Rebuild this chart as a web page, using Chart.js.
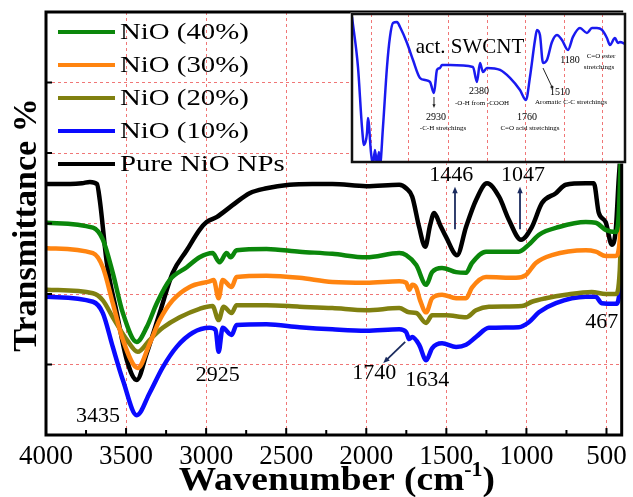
<!DOCTYPE html>
<html>
<head>
<meta charset="utf-8">
<script src="https://cdn.jsdelivr.net/npm/chart.js@4"></script>
<style>
  html, body { margin: 0; padding: 0; background: #fff; }
  #wrap { position: relative; width: 633px; height: 497px; }
  #main { position: absolute; left: 0; top: 0; width: 633px; height: 497px; }
  #inset { position: absolute; left: 350px; top: 12px; width: 277px; height: 152px; }
</style>
</head>
<body>
<div id="wrap">
  <div id="main"><canvas id="ctx"></canvas></div>
  <div id="inset"><canvas id="ctx2"></canvas></div>
</div>
<script>
// tick labels
const wavenumberTicks = [4000, 3500, 3000, 2500, 2000, 1500, 1000, 500]
const insetGridWn = [3720, 3250, 2750, 2255, 1770, 1275, 780]

// series (wavenumber, transmittance in arbitrary offset units)
const pureWn = [3994, 3850, 3776, 3726, 3682, 3664, 3620, 3558, 3495, 3433, 3371, 3290, 3209, 3121, 3041, 2997, 2935, 2835, 2729, 2623, 2480, 2337, 2212, 2000, 1794, 1751, 1713, 1670, 1632, 1601, 1576, 1539, 1502, 1433, 1377, 1315, 1246, 1171, 1109, 1034, 966, 903, 816, 754, 629, 579, 548, 505, 467, 442, 424, 411]
const pureT = [3.56, 3.56, 3.57, 3.59, 3.56, 3.33, 2.44, 1.73, 1.06, 0.78, 1.16, 1.73, 2.30, 2.62, 2.91, 3.02, 3.09, 3.26, 3.43, 3.50, 3.55, 3.56, 3.56, 3.53, 3.55, 3.50, 3.38, 2.95, 2.67, 2.98, 3.15, 2.98, 2.81, 2.55, 2.95, 3.33, 3.57, 3.38, 3.05, 2.77, 2.95, 3.29, 3.43, 3.55, 3.57, 3.57, 3.15, 3.02, 2.70, 2.91, 3.62, 4.04]

const nio40Wn = [3994, 3707, 3645, 3583, 3520, 3433, 3371, 3308, 3227, 3121, 3041, 2960, 2916, 2872, 2847, 2810, 2623, 2417, 2212, 2000, 1794, 1751, 1688, 1626, 1589, 1527, 1439, 1377, 1340, 1252, 1047, 985, 922, 797, 629, 567, 505, 442, 424, 411]
const nio40T = [3.01, 2.94, 2.77, 2.30, 1.73, 1.32, 1.53, 1.87, 2.20, 2.38, 2.52, 2.58, 2.45, 2.58, 2.52, 2.62, 2.64, 2.60, 2.57, 2.52, 2.58, 2.55, 2.41, 2.13, 2.31, 2.37, 2.31, 2.30, 2.44, 2.60, 2.60, 2.70, 2.84, 2.95, 3.02, 3.01, 2.91, 2.88, 3.12, 3.90]

const nio30Wn = [3994, 3707, 3645, 3583, 3520, 3427, 3352, 3290, 3209, 3103, 2978, 2953, 2922, 2897, 2841, 2810, 2623, 2417, 2212, 2000, 1794, 1751, 1732, 1713, 1688, 1664, 1626, 1589, 1527, 1439, 1377, 1340, 1252, 1065, 1003, 941, 841, 629, 567, 505, 442, 417, 405]
const nio30T = [2.65, 2.58, 2.38, 1.87, 1.35, 0.95, 1.30, 1.63, 1.91, 2.10, 2.18, 2.20, 1.94, 2.20, 2.10, 2.24, 2.26, 2.23, 2.17, 2.16, 2.18, 2.16, 2.06, 2.13, 2.09, 1.91, 1.74, 1.94, 1.99, 1.94, 1.94, 2.09, 2.24, 2.23, 2.27, 2.44, 2.55, 2.62, 2.60, 2.54, 2.54, 2.77, 3.62]

const nio20Wn = [3994, 3707, 3645, 3583, 3495, 3427, 3352, 3271, 3165, 3041, 2960, 2922, 2891, 2841, 2810, 2623, 2417, 2212, 2000, 1794, 1732, 1688, 1626, 1589, 1502, 1377, 1315, 1234, 1028, 966, 878, 754, 592, 505, 442, 417, 405]
const nio20T = [2.06, 2.01, 1.91, 1.67, 1.35, 1.18, 1.35, 1.52, 1.67, 1.79, 1.83, 1.63, 1.82, 1.73, 1.84, 1.84, 1.82, 1.80, 1.77, 1.80, 1.74, 1.73, 1.59, 1.70, 1.70, 1.67, 1.77, 1.82, 1.83, 1.89, 1.94, 1.99, 2.03, 2.00, 2.00, 2.34, 3.33]

const nio10Wn = [3994, 3707, 3645, 3583, 3520, 3433, 3352, 3271, 3184, 3084, 2978, 2941, 2922, 2897, 2841, 2810, 2623, 2417, 2212, 2000, 1794, 1751, 1732, 1713, 1670, 1626, 1589, 1527, 1439, 1377, 1315, 1234, 1047, 985, 922, 816, 629, 567, 530, 442, 417, 405]
const nio10T = [1.96, 1.89, 1.73, 1.25, 0.78, 0.28, 0.60, 0.96, 1.25, 1.45, 1.52, 1.49, 1.18, 1.52, 1.42, 1.56, 1.57, 1.53, 1.50, 1.48, 1.50, 1.46, 1.36, 1.39, 1.28, 1.06, 1.23, 1.30, 1.25, 1.28, 1.39, 1.52, 1.53, 1.60, 1.74, 1.87, 1.96, 1.96, 1.87, 1.86, 2.06, 2.91]

// inset: activated SWCNT spectrum
const swcntWn = [3973, 3897, 3846, 3820, 3782, 3770, 3731, 3706, 3681, 3655, 3630, 3617, 3579, 3528, 3490, 3452, 3401, 3362, 3273, 3197, 3108, 3044, 2981, 2930, 2892, 2854, 2828, 2726, 2434, 2383, 2345, 2307, 2256, 2090, 1963, 1836, 1760, 1709, 1645, 1620, 1582, 1543, 1493, 1429, 1366, 1302, 1225, 1162, 1073, 984, 920, 857, 793, 730, 691, 628, 590, 564, 500]
const swcntT = [98.0, 64.2, 23.6, 11.5, 19.6, 29.7, 6.1, -2, 8.1, -2, 6.8, -2, 23.6, 64.2, 84.5, 93.9, 94.6, 91.2, 80.4, 68.9, 56.8, 55.4, 54.1, 46.6, 62.2, 63.5, 65.5, 65.5, 64.2, 54.1, 66.9, 60.8, 63.5, 62.2, 56.8, 48.6, 41.9, 57.4, 82.4, 89.2, 85.8, 66.9, 68.9, 81.1, 85.8, 82.4, 75.7, 84.5, 90.5, 87.2, 90.5, 90.5, 89.2, 83.8, 79.1, 83.8, 80.4, 81.1, 79.7]

const pts = (wn, t) => wn.map((x, i) => ({x: x, y: t[i]}))

const serif = "'Liberation Serif', 'Times New Roman', serif"
const gridRed = 'rgba(236, 84, 84, 0.8)'
const arrowBlue = '#1b2b5e'

// main annotations, placed in data space
const peakLabels = [
  {text: '3435', wn: 3676, t: 0.27},
  {text: '2925', wn: 2928, t: 0.85},
  {text: '1740', wn: 1950, t: 0.88},
  {text: '1634', wn: 1620, t: 0.78},
  {text: '467', wn: 530, t: 1.60},
  {text: '1446', wn: 1470, t: 3.69},
  {text: '1047', wn: 1022, t: 3.69}
]
const peakArrows = [
  {from: [1446, 2.92], to: [1446, 3.52]},
  {from: [1040, 2.92], to: [1040, 3.52]},
  {from: [1757, 1.32], to: [1894, 1.02]}
]

function stretchText(ctx, text, x, y, font, sx, align, baseline) {
  ctx.save()
  ctx.font = font
  ctx.translate(x, y)
  ctx.scale(sx, 1)
  ctx.textAlign = align || 'center'
  ctx.textBaseline = baseline || 'middle'
  ctx.fillStyle = '#000'
  ctx.fillText(text, 0, 0)
  ctx.restore()
}

function arrow(ctx, x1, y1, x2, y2, head, color, width) {
  const a = Math.atan2(y2 - y1, x2 - x1)
  ctx.save()
  ctx.strokeStyle = color
  ctx.fillStyle = color
  ctx.lineWidth = width
  ctx.beginPath()
  ctx.moveTo(x1, y1)
  ctx.lineTo(x2 - Math.cos(a) * head * 0.6, y2 - Math.sin(a) * head * 0.6)
  ctx.stroke()
  ctx.beginPath()
  ctx.moveTo(x2, y2)
  ctx.lineTo(x2 - head * Math.cos(a - 0.4), y2 - head * Math.sin(a - 0.4))
  ctx.lineTo(x2 - head * Math.cos(a + 0.4), y2 - head * Math.sin(a + 0.4))
  ctx.closePath()
  ctx.fill()
  ctx.restore()
}

const frameAndText = {
  id: 'frameAndText',
  afterDatasetsDraw: (chart) => {
    const {ctx} = chart
    const {left, right, top, bottom} = chart.chartArea
    const xs = chart.scales.x
    const ys = chart.scales.y

    ctx.save()
    ctx.strokeStyle = '#000'
    ctx.lineWidth = 3
    ctx.strokeRect(left, top, right - left, bottom - top)

    // inward tick marks
    ctx.lineWidth = 2
    ctx.beginPath()
    for (let v = 500; v < 4000; v += 250) {
      const px = xs.getPixelForValue(v)
      ctx.moveTo(px, bottom)
      ctx.lineTo(px, bottom - (v % 500 === 0 ? 7 : 5))
    }
    for (let v = 1; v <= 5; v++) {
      const py = ys.getPixelForValue(v)
      ctx.moveTo(left, py)
      ctx.lineTo(left + 6, py)
    }
    ctx.stroke()
    ctx.restore()
  },
  afterDraw: (chart) => {
    const {ctx} = chart
    const xs = chart.scales.x
    const ys = chart.scales.y
    const {left, right} = chart.chartArea

    // legend
    chart.data.datasets.forEach((ds, i) => {
      const y = 32 + i * 33
      ctx.save()
      ctx.strokeStyle = ds.borderColor
      ctx.lineWidth = 4
      ctx.beginPath()
      ctx.moveTo(58, y)
      ctx.lineTo(115, y)
      ctx.stroke()
      ctx.restore()
      stretchText(ctx, ds.label, 120, y + 1, '24px ' + serif, 1.2, 'left')
    })

    // peak labels and arrows
    peakLabels.forEach(p => {
      stretchText(ctx, p.text, xs.getPixelForValue(p.wn), ys.getPixelForValue(p.t), '22px ' + serif, 1, 'center')
    })
    peakArrows.forEach(a => {
      arrow(ctx, xs.getPixelForValue(a.from[0]), ys.getPixelForValue(a.from[1]),
        xs.getPixelForValue(a.to[0]), ys.getPixelForValue(a.to[1]), 7, arrowBlue, 1.8)
    })

    // x title with superscript
    ctx.save()
    const big = 'bold 34px ' + serif
    const small = 'bold 20px ' + serif
    ctx.font = big
    const w1 = ctx.measureText('Wavenumber (cm').width
    const w3 = ctx.measureText(')').width
    ctx.font = small
    const w2 = ctx.measureText('-1').width
    const sx = 1.1
    const total = (w1 + w2 + w3) * sx
    let x0 = (left + right) / 2 + 3 - total / 2
    stretchText(ctx, 'Wavenumber (cm', x0, 490, big, sx, 'left', 'alphabetic')
    stretchText(ctx, '-1', x0 + w1 * sx, 476, small, sx, 'left', 'alphabetic')
    stretchText(ctx, ')', x0 + (w1 + w2) * sx, 490, big, sx, 'left', 'alphabetic')
    ctx.restore()

    // y title
    ctx.save()
    ctx.translate(36, 225)
    ctx.rotate(-Math.PI / 2)
    ctx.font = 'bold 34px ' + serif
    ctx.textAlign = 'center'
    ctx.textBaseline = 'alphabetic'
    ctx.fillStyle = '#000'
    ctx.fillText('Transmittance %', 0, 0)
    ctx.restore()
  }
}

const lineStyle = {
  pointRadius: 0,
  borderWidth: 4.5,
  borderJoinStyle: 'round',
  borderCapStyle: 'round',
  cubicInterpolationMode: 'monotone',
  fill: false
}

const data = {
  datasets: [
    Object.assign({label: 'NiO (40%)', data: pts(nio40Wn, nio40T), borderColor: '#0b870b'}, lineStyle),
    Object.assign({label: 'NiO (30%)', data: pts(nio30Wn, nio30T), borderColor: '#ff8410'}, lineStyle),
    Object.assign({label: 'NiO (20%)', data: pts(nio20Wn, nio20T), borderColor: '#808010'}, lineStyle),
    Object.assign({label: 'NiO (10%)', data: pts(nio10Wn, nio10T), borderColor: '#0a0aff'}, lineStyle),
    Object.assign({label: 'Pure NiO NPs', data: pts(pureWn, pureT), borderColor: '#000000'}, lineStyle)
  ]
}

const options = {
  type: 'line',
  data: data,
  options: {
    responsive: true,
    maintainAspectRatio: false,
    animation: false,
    layout: {padding: {top: 12, right: 10, left: 0, bottom: 0}},
    plugins: {
      legend: {display: false},
      tooltip: {enabled: false}
    },
    scales: {
      x: {
        type: 'linear',
        reverse: true,
        min: 405,
        max: 4000,
        afterBuildTicks: (scale) => {
          scale.ticks = wavenumberTicks.map(v => ({value: v}))
        },
        afterFit: (scale) => { scale.height = 62 },
        ticks: {
          autoSkip: false,
          maxRotation: 0,
          padding: 6,
          color: '#000',
          font: {family: serif, size: 27},
          callback: (v) => String(v)
        },
        grid: {
          drawTicks: false,
          lineWidth: 1,
          color: (c) => (c.tick && c.tick.value === 4000) ? 'rgba(0,0,0,0)' : gridRed
        },
        border: {display: false, dash: [3, 3]}
      },
      y: {
        min: 0,
        max: 6,
        afterFit: (scale) => { scale.width = 46 },
        ticks: {display: false, stepSize: 1},
        grid: {
          drawTicks: false,
          lineWidth: 1,
          color: (c) => (c.tick && (c.tick.value === 0 || c.tick.value === 6)) ? 'rgba(0,0,0,0)' : gridRed
        },
        border: {display: false, dash: [3, 3]}
      }
    }
  },
  plugins: [frameAndText]
}

var chart = new Chart(document.getElementById('ctx'), options)

// ---- inset ----
const insetLabels = [
  {text: 'act. SWCNT', wn: 2472, t: 77.7, size: 21},
  {text: '2930', wn: 2905, t: 30.4, size: 10},
  {text: '-C-H stretchings', wn: 2815, t: 23.0, size: 7},
  {text: '2380', wn: 2357, t: 48.0, size: 10},
  {text: '-O-H from -COOH', wn: 2319, t: 39.9, size: 7},
  {text: '1760', wn: 1747, t: 30.4, size: 10},
  {text: 'C=O acid stretchings', wn: 1709, t: 23.0, size: 7},
  {text: '1510', wn: 1327, t: 47.3, size: 10},
  {text: 'Aromatic C-C stretchings', wn: 1187, t: 40.5, size: 7},
  {text: '1180', wn: 1200, t: 68.9, size: 10},
  {text: 'C=O ester', wn: 806, t: 71.6, size: 7},
  {text: 'stretchings', wn: 831, t: 64.2, size: 7}
]

const insetDecor = {
  id: 'insetDecor',
  beforeDraw: (chart) => {
    const {ctx} = chart
    const {left, right, top, bottom} = chart.chartArea
    ctx.save()
    ctx.fillStyle = '#fff'
    ctx.fillRect(left - 1.5, top - 1.5, right - left + 3, bottom - top + 3)
    ctx.restore()
  },
  afterDraw: (chart) => {
    const {ctx} = chart
    const {left, right, top, bottom} = chart.chartArea
    const xs = chart.scales.x
    const ys = chart.scales.y
    insetLabels.forEach(p => {
      stretchText(ctx, p.text, xs.getPixelForValue(p.wn), ys.getPixelForValue(p.t), p.size + 'px ' + serif, 1, 'center')
    })
    arrow(ctx, xs.getPixelForValue(2930), ys.getPixelForValue(43.9), xs.getPixelForValue(2930), ys.getPixelForValue(36.5), 4, '#222', 1)
    ctx.save()
    ctx.strokeStyle = '#222'
    ctx.fillStyle = '#222'
    ctx.lineWidth = 1
    ctx.beginPath()
    ctx.moveTo(xs.getPixelForValue(1543), ys.getPixelForValue(63.5))
    ctx.lineTo(xs.getPixelForValue(1429), ys.getPixelForValue(50.7))
    ctx.stroke()
    ctx.beginPath()
    ctx.arc(xs.getPixelForValue(1429), ys.getPixelForValue(50.7), 1.5, 0, Math.PI * 2)
    ctx.fill()
    ctx.strokeStyle = '#111'
    ctx.lineWidth = 2.5
    ctx.strokeRect(left, top, right - left, bottom - top)
    ctx.restore()
  }
}

var inset = new Chart(document.getElementById('ctx2'), {
  type: 'line',
  data: {
    datasets: [{
      label: 'act. SWCNT',
      data: pts(swcntWn, swcntT),
      borderColor: '#1a1af0',
      borderWidth: 2.5,
      pointRadius: 0,
      borderJoinStyle: 'round',
      cubicInterpolationMode: 'monotone'
    }]
  },
  options: {
    responsive: true,
    maintainAspectRatio: false,
    animation: false,
    layout: {padding: 2},
    plugins: {legend: {display: false}, tooltip: {enabled: false}},
    scales: {
      x: {
        type: 'linear',
        reverse: true,
        min: 500,
        max: 3973,
        afterBuildTicks: (scale) => {
          scale.ticks = insetGridWn.map(v => ({value: v}))
        },
        afterFit: (scale) => { scale.height = 0 },
        ticks: {display: false},
        grid: {drawTicks: false, color: gridRed, lineWidth: 1},
        border: {display: false, dash: [3, 3]}
      },
      y: {
        display: false,
        min: 0,
        max: 100
      }
    }
  },
  plugins: [insetDecor]
})
</script>
</body>
</html>
